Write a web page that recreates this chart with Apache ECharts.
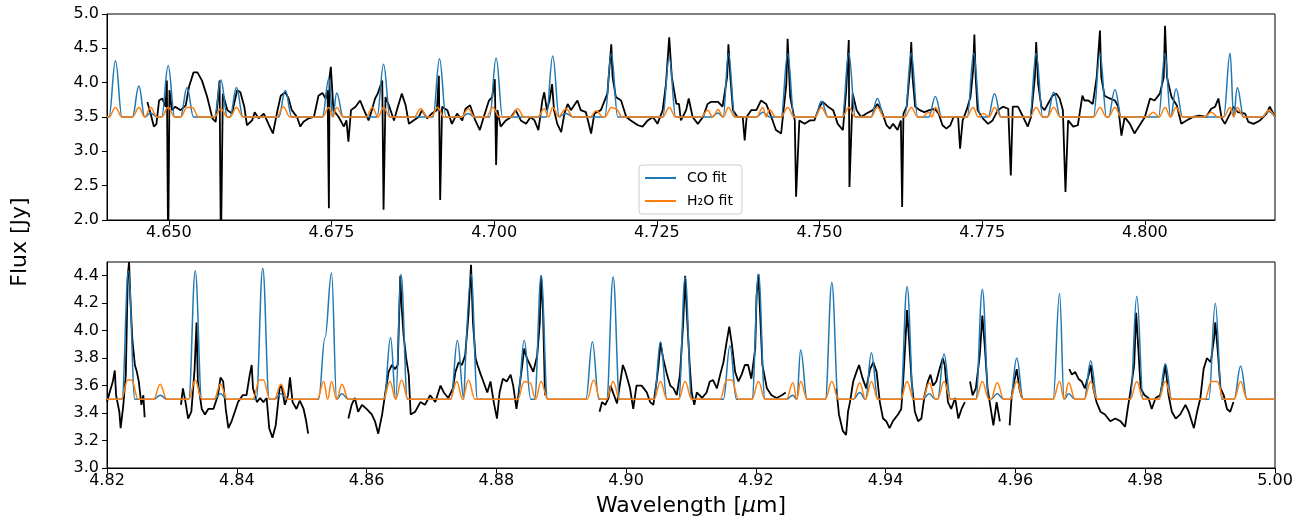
<!DOCTYPE html>
<html>
<head>
<meta charset="utf-8">
<script src="https://cdn.jsdelivr.net/npm/echarts@6/dist/echarts.min.js"></script>
<style>
  html, body { margin: 0; padding: 0; background: #fff; }
  #chart { width: 1304px; height: 521px; }
</style>
</head>
<body>
<div id="chart"></div>
<script>
// observed spectrum, upper panel [wavelength, flux]
var topObs = [
  [4.6467,3.72],[4.6472,3.55],[4.6477,3.36],[4.6481,3.40],[4.6485,3.74],[4.6490,3.77],[4.6495,3.65],[4.6497,4.03],[4.6499,1.5],[4.6501,3.89],
  [4.6505,3.60],[4.6510,3.65],[4.6518,3.60],[4.6526,3.67],[4.6531,3.94],[4.6538,4.15],[4.6544,4.15],[4.6551,4.03],[4.6559,3.79],[4.6567,3.48],
  [4.6572,3.43],[4.6578,4.03],[4.6580,1.5],[4.6583,3.84],[4.6590,3.60],[4.6597,3.55],[4.6605,3.89],[4.6610,3.86],[4.6616,3.65],[4.6620,3.38],
  [4.6628,3.45],[4.6632,3.57],[4.6638,3.48],[4.6646,3.55],[4.6654,3.38],[4.6660,3.26],[4.6666,3.55],[4.6672,3.81],[4.6679,3.86],[4.6684,3.77],
  [4.6689,3.60],[4.6697,3.50],[4.6702,3.36],[4.6707,3.43],[4.6715,3.48],[4.6723,3.50],[4.6730,3.81],[4.6736,3.85],[4.6741,3.77],[4.6744,3.89],
  [4.6746,2.17],[4.6747,4.08],[4.6749,4.23],[4.6753,3.60],[4.6761,3.50],[4.6769,3.36],[4.6773,3.45],[4.6776,3.14],[4.6780,3.60],[4.6787,3.65],
  [4.6794,3.74],[4.6800,3.60],[4.6807,3.45],[4.6812,3.60],[4.6817,3.77],[4.6821,3.84],[4.6828,4.03],[4.6830,2.15],[4.6833,3.79],[4.6839,3.65],
  [4.6846,3.45],[4.6852,3.65],[4.6858,3.84],[4.6864,3.67],[4.6869,3.40],[4.6876,3.45],[4.6884,3.50],[4.6889,3.60],[4.6897,3.48],[4.6904,3.55],
  [4.6912,3.60],[4.6915,4.10],[4.6917,2.29],[4.6920,3.65],[4.6928,3.60],[4.6935,3.40],[4.6943,3.55],[4.6951,3.45],[4.6956,3.62],[4.6963,3.67],
  [4.6971,3.45],[4.6978,3.31],[4.6984,3.50],[4.6992,3.74],[4.6997,3.79],[4.7001,4.05],[4.7003,2.80],[4.7005,3.60],[4.7010,3.36],[4.7018,3.45],
  [4.7026,3.50],[4.7033,3.60],[4.7041,3.45],[4.7049,3.40],[4.7056,3.50],[4.7062,3.45],[4.7068,3.31],[4.7074,3.74],[4.7077,3.86],[4.7081,3.60],
  [4.7085,3.74],[4.7089,3.98],[4.7092,3.60],[4.7097,3.40],[4.7103,3.28],[4.7108,3.55],[4.7113,3.69],[4.7118,3.60],[4.7123,3.67],[4.7128,3.74],
  [4.7133,3.60],[4.7141,3.57],[4.7149,3.26],[4.7154,3.55],[4.7164,3.60],[4.7174,3.84],[4.7180,4.56],[4.7182,4.08],[4.7187,3.79],[4.7195,3.74],
  [4.7203,3.50],[4.7210,3.45],[4.7221,3.38],[4.7228,3.36],[4.7236,3.45],[4.7244,3.50],[4.7251,3.40],[4.7259,3.60],[4.7264,3.98],[4.7269,4.66],
  [4.7273,4.08],[4.7280,3.69],[4.7284,3.69],[4.7287,3.45],[4.7295,3.60],[4.7299,3.77],[4.7305,3.50],[4.7313,3.40],[4.7321,3.50],[4.7328,3.69],
  [4.7333,3.72],[4.7344,3.72],[4.7351,3.65],[4.7358,4.08],[4.7360,4.56],[4.7363,4.08],[4.7367,3.60],[4.7374,3.50],[4.7382,3.50],[4.7385,3.16],
  [4.7388,3.50],[4.7395,3.60],[4.7403,3.60],[4.7410,3.74],[4.7418,3.69],[4.7426,3.50],[4.7433,3.31],[4.7441,3.26],[4.7449,3.98],[4.7451,4.64],
  [4.7455,3.79],[4.7462,3.45],[4.7464,2.34],[4.7469,3.45],[4.7477,3.40],[4.7485,3.45],[4.7492,3.45],[4.7500,3.65],[4.7505,3.72],[4.7513,3.65],
  [4.7521,3.60],[4.7528,3.40],[4.7536,3.31],[4.7541,3.89],[4.7545,4.62],[4.7546,2.48],[4.7551,3.84],[4.7557,3.60],[4.7564,3.50],[4.7572,3.55],
  [4.7582,3.60],[4.7589,3.69],[4.7595,3.60],[4.7603,3.38],[4.7608,3.33],[4.7613,3.40],[4.7620,3.31],[4.7625,3.45],[4.7627,2.19],[4.7629,3.55],
  [4.7634,3.65],[4.7639,4.18],[4.7641,4.59],[4.7643,4.08],[4.7647,3.65],[4.7654,3.60],[4.7661,3.57],[4.7669,3.60],[4.7677,3.62],[4.7683,3.55],
  [4.7689,3.38],[4.7695,3.33],[4.7701,3.38],[4.7706,3.50],[4.7713,3.50],[4.7716,3.04],[4.7720,3.45],[4.7726,3.60],[4.7732,3.79],[4.7736,4.18],
  [4.7738,4.70],[4.7740,4.08],[4.7743,3.60],[4.7751,3.48],[4.7759,3.40],[4.7766,3.45],[4.7774,3.60],[4.7782,3.65],[4.7790,3.62],[4.7794,2.65],
  [4.7797,3.65],[4.7805,3.65],[4.7813,3.50],[4.7820,3.36],[4.7825,3.50],[4.7831,4.08],[4.7833,4.59],[4.7836,3.98],[4.7841,3.65],[4.7846,3.60],
  [4.7851,3.69],[4.7858,3.81],[4.7864,3.84],[4.7869,3.77],[4.7874,3.60],[4.7878,2.41],[4.7882,3.45],[4.7890,3.36],[4.7897,3.38],[4.7904,3.81],
  [4.7907,3.74],[4.7913,3.74],[4.7920,3.69],[4.7926,4.08],[4.7931,4.76],[4.7933,4.08],[4.7938,3.81],[4.7946,3.77],[4.7954,3.74],[4.7959,3.65],
  [4.7964,3.23],[4.7969,3.50],[4.7977,3.40],[4.7984,3.26],[4.7992,3.38],[4.8000,3.50],[4.8008,3.77],[4.8015,3.74],[4.8023,3.84],[4.8029,4.08],
  [4.8031,4.83],[4.8034,4.08],[4.8041,3.79],[4.8049,3.67],[4.8056,3.40],[4.8064,3.45],[4.8074,3.50],[4.8084,3.52],[4.8094,3.50],[4.8102,3.62],
  [4.8108,3.65],[4.8113,3.77],[4.8118,3.48],[4.8123,3.40],[4.8131,3.55],[4.8136,3.65],[4.8143,3.57],[4.8154,3.55],[4.8159,3.43],[4.8167,3.40],
  [4.8177,3.45],[4.8187,3.55],[4.8192,3.65],[4.8200,3.50]
];

// observed spectrum, lower panel (null = no data)
var botObs = [
  [4.8200,3.48],[4.8204,3.55],[4.8209,3.63],[4.8212,3.71],[4.8214,3.53],[4.8219,3.41],[4.8221,3.29],[4.8225,3.45],[4.8229,3.68],[4.8232,4.40],
  [4.8234,4.50],[4.8236,4.23],[4.8239,3.94],[4.8243,3.75],[4.8246,3.70],[4.8249,3.63],[4.8253,3.46],[4.8256,3.53],[4.8258,3.37],[4.8285,null],
  [4.8314,3.46],[4.8317,3.58],[4.8321,3.48],[4.8325,3.36],[4.8330,3.41],[4.8335,3.72],[4.8338,4.06],[4.8340,3.63],[4.8346,3.43],[4.8351,3.39],
  [4.8356,3.43],[4.8364,3.43],[4.8371,3.53],[4.8375,3.66],[4.8379,3.63],[4.8383,3.43],[4.8387,3.29],[4.8392,3.34],[4.8397,3.41],[4.8402,3.48],
  [4.8409,3.53],[4.8415,3.53],[4.8420,3.68],[4.8423,3.75],[4.8425,3.58],[4.8431,3.48],[4.8436,3.51],[4.8441,3.48],[4.8446,3.51],[4.8450,3.29],
  [4.8455,3.22],[4.8460,3.31],[4.8466,3.58],[4.8469,3.60],[4.8474,3.46],[4.8479,3.53],[4.8482,3.66],[4.8486,3.48],[4.8492,3.43],[4.8497,3.49],
  [4.8503,3.43],[4.8507,3.34],[4.8510,3.25],[4.8540,null],
  [4.8572,3.36],[4.8577,3.46],[4.8582,3.51],[4.8587,3.41],[4.8593,3.46],[4.8600,3.43],[4.8608,3.39],[4.8613,3.34],[4.8618,3.25],[4.8624,3.39],
  [4.8629,3.55],[4.8634,3.70],[4.8639,3.75],[4.8644,3.72],[4.8648,3.75],[4.8652,4.40],[4.8654,4.18],[4.8657,3.97],[4.8661,3.80],[4.8665,3.68],
  [4.8668,3.39],[4.8675,3.41],[4.8683,3.48],[4.8690,3.46],[4.8698,3.53],[4.8706,3.48],[4.8714,3.60],[4.8719,3.55],[4.8726,3.51],[4.8733,3.58],
  [4.8737,3.70],[4.8742,3.77],[4.8747,3.75],[4.8752,3.82],[4.8757,4.11],[4.8761,4.48],[4.8764,4.06],[4.8768,3.80],[4.8771,3.75],[4.8776,3.68],
  [4.8780,3.63],[4.8786,3.55],[4.8791,3.63],[4.8796,3.48],[4.8801,3.36],[4.8805,3.55],[4.8810,3.65],[4.8816,3.63],[4.8822,3.68],[4.8826,3.60],
  [4.8831,3.43],[4.8834,3.53],[4.8840,3.75],[4.8843,3.87],[4.8847,3.80],[4.8852,3.75],[4.8857,3.70],[4.8863,3.82],[4.8867,4.06],[4.8869,4.40],
  [4.8872,4.13],[4.8875,3.53],[4.8920,null],
  [4.8959,3.41],[4.8963,3.48],[4.8968,3.46],[4.8973,3.51],[4.8976,3.60],[4.8986,3.47],[4.8995,3.75],[4.8999,3.70],[4.9006,3.58],[4.9011,3.43],
  [4.9016,3.60],[4.9024,3.60],[4.9032,3.55],[4.9037,3.48],[4.9042,3.46],[4.9047,3.63],[4.9050,3.75],[4.9053,3.91],[4.9057,3.80],[4.9063,3.68],
  [4.9068,3.60],[4.9073,3.58],[4.9078,3.53],[4.9083,3.68],[4.9088,4.06],[4.9091,4.40],[4.9093,4.18],[4.9098,3.75],[4.9101,3.55],[4.9105,3.46],
  [4.9109,3.55],[4.9117,3.51],[4.9124,3.55],[4.9129,3.63],[4.9134,3.64],[4.9140,3.58],[4.9145,3.68],[4.9150,3.77],[4.9155,3.92],[4.9159,4.03],
  [4.9163,3.90],[4.9168,3.70],[4.9173,3.63],[4.9178,3.68],[4.9183,3.75],[4.9188,3.75],[4.9193,3.65],[4.9199,3.87],[4.9201,4.25],[4.9204,4.41],
  [4.9206,4.18],[4.9210,3.75],[4.9217,3.58],[4.9224,3.53],[4.9232,3.51],[4.9240,3.53],[4.9246,3.55],[4.9290,null],
  [4.9324,3.58],[4.9328,3.39],[4.9334,3.27],[4.9339,3.24],[4.9342,3.41],[4.9345,3.48],[4.9350,3.63],[4.9355,3.70],[4.9359,3.75],[4.9364,3.66],
  [4.9370,3.58],[4.9376,3.72],[4.9381,3.77],[4.9386,3.70],[4.9391,3.48],[4.9396,3.36],[4.9401,3.34],[4.9406,3.29],[4.9411,3.34],[4.9419,3.39],
  [4.9424,3.43],[4.9427,3.63],[4.9431,3.97],[4.9433,4.15],[4.9436,3.94],[4.9440,3.63],[4.9445,3.41],[4.9450,3.34],[4.9455,3.36],[4.9460,3.53],
  [4.9465,3.63],[4.9469,3.68],[4.9473,3.60],[4.9478,3.63],[4.9483,3.72],[4.9488,3.80],[4.9491,3.75],[4.9496,3.48],[4.9501,3.43],[4.9507,3.51],
  [4.9512,3.36],[4.9517,3.43],[4.9522,3.48],[4.9526,null],
  [4.9530,3.63],[4.9534,3.53],[4.9539,3.58],[4.9545,3.82],[4.9549,4.11],[4.9553,3.87],[4.9557,3.58],[4.9562,3.43],[4.9566,3.31],[4.9571,3.48],
  [4.9576,3.34],[4.9584,null],
  [4.9591,3.31],[4.9594,3.51],[4.9598,3.63],[4.9602,3.72],[4.9606,3.58],[4.9610,3.51],[4.9650,null],
  [4.9683,3.72],[4.9687,3.68],[4.9692,3.70],[4.9697,3.65],[4.9702,3.63],[4.9707,3.58],[4.9713,3.68],[4.9716,3.75],[4.9720,3.58],[4.9725,3.48],
  [4.9731,3.41],[4.9738,3.39],[4.9746,3.34],[4.9754,3.36],[4.9762,3.34],[4.9769,3.30],[4.9773,3.43],[4.9778,3.58],[4.9783,3.75],[4.9786,4.13],
  [4.9790,3.82],[4.9793,3.58],[4.9799,3.53],[4.9805,3.51],[4.9810,3.43],[4.9816,3.51],[4.9823,3.53],[4.9827,3.63],[4.9831,3.75],[4.9836,3.53],
  [4.9841,3.41],[4.9847,3.36],[4.9854,3.39],[4.9862,3.46],[4.9867,3.41],[4.9875,3.29],[4.9880,3.41],[4.9885,3.51],[4.9890,3.72],[4.9895,3.80],
  [4.9901,3.77],[4.9906,3.94],[4.9908,4.06],[4.9912,3.84],[4.9916,3.58],[4.9921,3.53],[4.9926,3.43],[4.9931,3.41],[4.9936,3.48]
];

// CO fit lines (centre, peak flux)
var topCOCenter = [4.6418,4.6454,4.6472,4.6499,4.6528,4.6580,4.6604,4.6679,4.6746,4.6758,4.6830,4.6916,4.6960,4.7003,4.7090,4.7111,4.7180,
  4.7269,4.7344,4.7360,4.7413,4.7451,4.7503,4.7545,4.7589,4.7641,4.7678,4.7737,4.7769,4.7833,4.7860,4.7931,4.7954,4.8031,4.8048,4.8131,4.8142,4.8190];
var topCOPeak = [4.32,3.95,3.56,4.25,3.93,4.04,3.93,3.89,4.06,3.85,4.27,4.35,3.55,4.36,4.39,3.55,4.42,
  4.37,3.56,4.42,3.57,4.42,3.73,4.43,3.77,4.43,3.80,4.43,3.84,4.43,3.86,4.43,3.90,4.43,3.91,4.43,3.93,3.58];
var botCOCenter = [4.8233,4.8282,4.8336,4.8375,4.8440,4.8468,4.8536,4.8546,4.8562,4.8637,4.8653,4.8740,4.8761,4.8843,4.8869,4.8948,4.8980,
  4.9053,4.9091,4.9160,4.9204,4.9257,4.9269,4.9317,4.9360,4.9378,4.9433,4.9467,4.9490,4.9549,4.9572,4.9602,4.9668,4.9682,4.9716,4.9787,
  4.9831,4.9908,4.9947];
var botCOPeak = [4.435,3.53,4.435,3.54,4.455,3.54,3.95,4.42,3.54,3.95,4.41,3.93,4.41,3.93,4.40,3.92,4.39,
  3.92,4.39,3.89,4.41,3.53,3.86,4.35,3.55,3.84,4.32,3.54,3.83,4.30,3.54,3.80,4.27,3.54,3.78,4.25,
  3.76,4.20,3.74];

// H2O fit lines (centre, peak flux)
var topH2OCenter = [4.6418,4.6454,4.6472,4.6499,4.6528,4.6536,4.6580,4.6604,4.6676,4.6746,4.6758,4.6813,4.6830,4.6887,4.6913,4.6960,4.6998,
  4.7036,4.7077,4.7090,4.7111,4.7157,4.7180,4.7187,4.7269,4.7328,4.7344,4.7360,4.7413,4.7423,4.7451,4.7503,4.7545,4.7589,
  4.7641,4.7668,4.7678,4.7736,4.7752,4.7769,4.7833,4.7860,4.7931,4.7954,4.8013,4.8031,4.8048,4.8102,4.8131,4.8142,4.8190];
var topH2OPeak = [3.64,3.64,3.64,3.64,3.64,3.64,3.62,3.64,3.65,3.64,3.64,3.64,3.64,3.62,3.64,3.62,3.64,
  3.62,3.62,3.64,3.62,3.59,3.64,3.62,3.64,3.60,3.61,3.64,3.64,3.61,3.64,3.64,3.64,3.64,
  3.64,3.57,3.64,3.64,3.55,3.64,3.64,3.64,3.64,3.64,3.57,3.64,3.64,3.57,3.64,3.64,3.60];
var botH2OCenter = [4.8232,4.8238,4.8282,4.8336,4.8375,4.8435,4.8441,4.8468,4.8534,4.8546,4.8562,4.8636,4.8654,4.8739,4.8757,
  4.8843,4.8852,4.8869,4.8950,4.8980,4.9053,4.9091,4.9155,4.9163,4.9204,4.9257,4.9269,4.9317,4.9360,4.9378,
  4.9433,4.9467,4.9490,4.9549,4.9572,4.9602,4.9668,4.9682,4.9716,4.9787,4.9831,4.9902,4.9911,4.9947];
var botH2OPeak = [3.64,3.64,3.61,3.64,3.61,3.64,3.64,3.61,3.63,3.63,3.61,3.63,3.64,3.63,3.64,
  3.63,3.62,3.63,3.64,3.63,3.63,3.63,3.64,3.64,3.63,3.62,3.63,3.63,3.62,3.63,
  3.63,3.62,3.63,3.63,3.62,3.63,3.63,3.62,3.63,3.63,3.63,3.63,3.63,3.63];

// axis ranges and ticks
var topXRange = [4.6405, 4.82];
var botXRange = [4.82, 5.00];
var topXTicks = [4.650, 4.675, 4.700, 4.725, 4.750, 4.775, 4.800];
var botXTicks = [4.82, 4.84, 4.86, 4.88, 4.90, 4.92, 4.94, 4.96, 4.98, 5.00];
var topYTicks = [2.0, 2.5, 3.0, 3.5, 4.0, 4.5, 5.0];
var botYTicks = [3.0, 3.2, 3.4, 3.6, 3.8, 4.0, 4.2, 4.4];
var continuum = 3.5;

var FONT = 'DejaVu Sans';

// each fitted line drawn as base - peak - base; close neighbours share a valley or merge
function fitLine(centers, peaks, range) {
  var half = 0.001;
  var lines = centers.map(function (c, i) { return [c, peaks[i]]; });
  lines.sort(function (a, b) { return a[0] - b[0]; });
  var out = [[range[0], continuum]];
  for (var i = 0; i < lines.length; i++) {
    var c = lines[i][0];
    var prev = lines[i - 1], next = lines[i + 1];
    if (!prev || c - prev[0] >= 2 * half) out.push([c - half, continuum]);
    out.push([c, lines[i][1]]);
    if (!next || next[0] - c >= 2 * half) out.push([c + half, continuum]);
    else if (next[0] - c >= 0.001) out.push([(c + next[0]) / 2, continuum]);
  }
  out.push([range[1], continuum]);
  return out;
}

function obsLine(list) {
  return list.map(function (p) { return [p[0], p[1] === null ? '-' : p[1]]; });
}

function xAxisOf(idx, range, ticks, digits, extra) {
  var ax = {
    type: 'value', gridIndex: idx, min: range[0], max: range[1],
    splitLine: { show: false },
    axisLine: { onZero: false, lineStyle: { color: '#000', width: 1 } },
    axisTick: { customValues: ticks, length: 5, lineStyle: { color: '#000' } },
    axisLabel: {
      customValues: ticks, color: '#000', fontSize: 16, fontFamily: FONT, margin: 5,
      formatter: function (v) { return v.toFixed(digits); }
    }
  };
  return Object.assign(ax, extra || {});
}

function yAxisOf(idx, lo, hi, ticks) {
  return {
    type: 'value', gridIndex: idx, min: lo, max: hi,
    splitLine: { show: false },
    axisLine: { onZero: false, lineStyle: { color: '#000', width: 1 } },
    axisTick: { customValues: ticks, length: 5, lineStyle: { color: '#000' } },
    axisLabel: {
      customValues: ticks, color: '#000', fontSize: 16, fontFamily: FONT, margin: 8,
      formatter: function (v) { return v.toFixed(1); }
    }
  };
}

function lineSeries(name, data, idx, color, smooth, z, width) {
  var s = {
    name: name, type: 'line', data: data, xAxisIndex: idx, yAxisIndex: idx,
    showSymbol: false, symbol: 'none', z: z, clip: true,
    lineStyle: { color: color, width: width }, itemStyle: { color: color }
  };
  if (smooth) { s.smooth = 0.4; s.smoothMonotone = 'x'; }
  return s;
}

var chart = echarts.init(document.getElementById('chart'), null, { renderer: 'canvas' });

var option = {
  animation: false,
  backgroundColor: '#fff',
  grid: [
    { left: 107, top: 14, width: 1168, height: 206, show: true, borderColor: '#000', borderWidth: 1 },
    { left: 107, top: 262, width: 1168, height: 206, show: true, borderColor: '#000', borderWidth: 1 }
  ],
  xAxis: [
    xAxisOf(0, topXRange, topXTicks, 3),
    xAxisOf(1, botXRange, botXTicks, 2, {
      name: 'Wavelength [{i|\u03bc}m]', nameLocation: 'middle', nameGap: 27,
      nameTextStyle: { fontSize: 22, fontFamily: FONT, color: '#000',
        rich: { i: { fontSize: 22, fontFamily: FONT, fontStyle: 'italic', color: '#000' } } }
    })
  ],
  yAxis: [
    yAxisOf(0, 2, 5, topYTicks),
    yAxisOf(1, 3, 4.5, botYTicks)
  ],
  legend: {
    data: ['CO fit', 'H\u2082O fit'],
    orient: 'vertical', left: 639, top: 165,
    icon: 'rect', itemWidth: 31, itemHeight: 2, itemGap: 9,
    padding: [6, 9, 6, 6],
    backgroundColor: 'rgba(255,255,255,0.85)', borderColor: '#cccccc', borderWidth: 1, borderRadius: 3,
    textStyle: { fontSize: 14, fontFamily: FONT, color: '#000', padding: [0, 0, 0, 6] }
  },
  graphic: [{
    type: 'text', x: 20, y: 242, rotation: Math.PI / 2,
    style: { text: 'Flux [Jy]', font: '22px "DejaVu Sans"', fill: '#000', textAlign: 'center', textVerticalAlign: 'middle' }
  }],
  series: [
    lineSeries('obs', obsLine(topObs), 0, '#000', false, 2, 1.8),
    lineSeries('CO fit', fitLine(topCOCenter, topCOPeak, topXRange), 0, '#1f77b4', true, 3, 1.5),
    lineSeries('H\u2082O fit', fitLine(topH2OCenter, topH2OPeak, topXRange), 0, '#ff7f0e', true, 4, 1.5),
    lineSeries('obs', obsLine(botObs), 1, '#000', false, 2, 1.8),
    lineSeries('CO fit', fitLine(botCOCenter, botCOPeak, botXRange), 1, '#1f77b4', true, 3, 1.5),
    lineSeries('H\u2082O fit', fitLine(botH2OCenter, botH2OPeak, botXRange), 1, '#ff7f0e', true, 4, 1.5)
  ]
};

chart.setOption(option);
</script>
</body>
</html>
